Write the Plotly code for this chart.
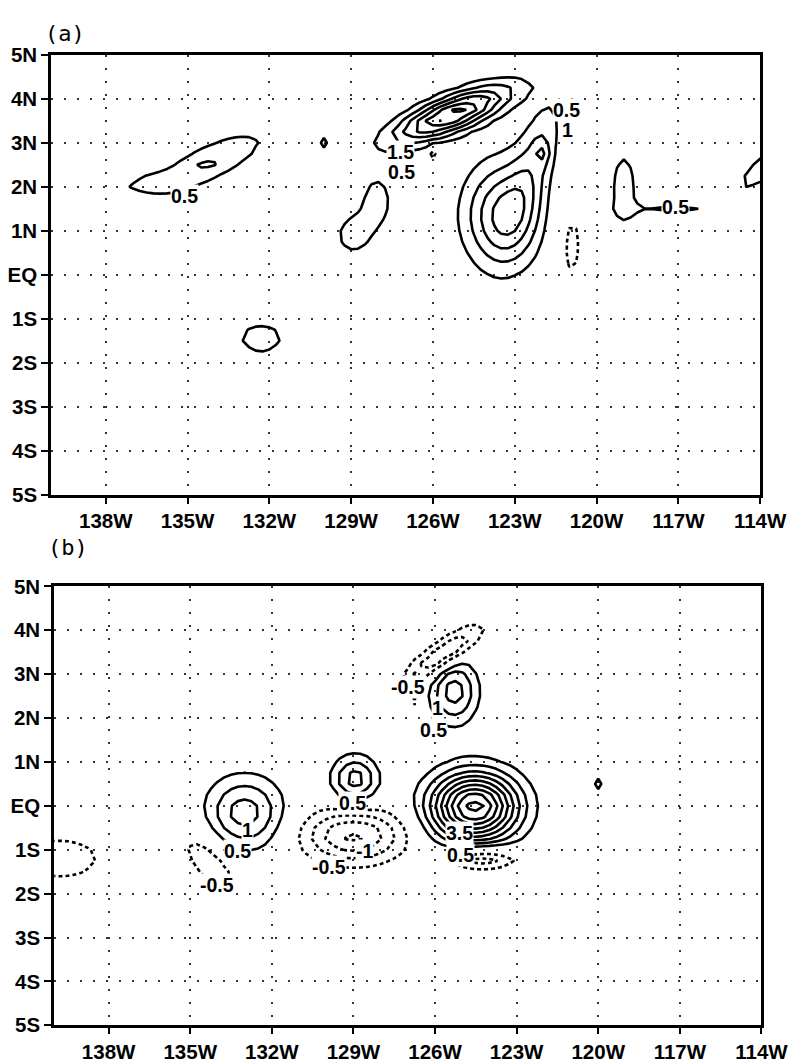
import numpy as np
import plotly.graph_objects as go

# ---------------- axis ticks ----------------
lon_ticks = [-138, -135, -132, -129, -126, -123, -120, -117, -114]
lon_labels = ["138W", "135W", "132W", "129W", "126W", "123W", "120W", "117W", "114W"]
lat_ticks = [-5, -4, -3, -2, -1, 0, 1, 2, 3, 4, 5]
lat_labels = ["5S", "4S", "3S", "2S", "1S", "EQ", "1N", "2N", "3N", "4N", "5N"]

# ---------------- panel (a) anomaly centres ----------------
a_lon = [-134.2, -136.6, -130.0, -125.3, -126.0, -128.05, -128.95, -123.45, -122.3, -122.0, -120.95, -119.0, -117.2, -113.6, -132.3]
a_lat = [2.55, 2.1, 3.0, 3.65, 2.75, 1.68, 0.9, 1.35, 2.55, 2.78, 0.72, 1.95, 1.5, 2.55, -1.45]
a_amp = [1.08, 0.62, 0.8, 3.2, -0.9, 0.7, 0.7, 2.05, 0.95, 0.7, -0.62, 0.75, 0.6, 0.75, 0.62]
a_sx = [1.5, 0.9, 0.12, 1.5, 0.12, 0.49, 0.55, 0.97, 1.2, 0.2, 0.5, 0.4, 1.2, 1.3, 1.05]
a_sy = [0.3, 0.13, 0.12, 0.28, 0.12, 0.52, 0.39, 0.82, 0.5, 0.2, 1.0, 0.75, 0.12, 0.3, 0.45]
a_ang = [15, 0, 0, 13, 0, 0, 0, 0, 60, 0, 0, 0, 0, 25, 0]

# ---------------- panel (b) anomaly centres ----------------
b_lon = [-125.3, -125.7, -126.75, -124.55, -124.3, -120.0, -133.0, -134.3, -139.8, -128.94, -129.0]
b_lat = [2.6, 3.45, 2.4, -0.02, -1.2, 0.5, -0.15, -1.25, -1.2, 0.6, -0.68]
b_amp = [1.75, -1.8, -0.6, 4.7, -1.6, 0.85, 1.75, -0.82, -0.7, 1.75, -2.1]
b_sx = [0.6, 1.0, 0.15, 1.1, 0.9, 0.12, 0.98, 1.0, 1.6, 0.59, 1.3]
b_sy = [0.5, 0.22, 0.4, 0.53, 0.18, 0.12, 0.57, 0.42, 0.5, 0.37, 0.42]
b_ang = [0, 22, 0, 0, 0, 0, 0, -30, 0, 0, 0]

# ---------------- contour labels ----------------
a_lab_text = ["0.5", "0.5", "1.5", "0.5", "1", "0.5"]
a_lab_lon = [-135.1, -127.15, -127.2, -121.1, -121.05, -117.1]
a_lab_lat = [1.8, 2.34, 2.8, 3.74, 3.28, 1.55]

b_lab_text = ["-0.5", "0.5", "1", "0.5", "0.5", "3.5", "0.5", "1", "-1", "-0.5", "-0.5"]
b_lab_lon = [-127.0, -126.05, -125.9, -129.05, -125.05, -125.1, -133.25, -132.9, -128.6, -129.9, -134.0]
b_lab_lat = [2.71, 1.72, 2.22, 0.07, -1.12, -0.62, -1.02, -0.56, -1.02, -1.4, -1.8]

grid_lon = np.arange(-141.0, -112.99, 0.25)
grid_lat = np.arange(-5.5, 5.51, 0.25)


def field(lons, lats, amps, sxs, sys_, angs):
    X, Y = np.meshgrid(grid_lon, grid_lat)
    Z = np.zeros_like(X)
    for lo, la, A, sx, sy, ang in zip(lons, lats, amps, sxs, sys_, angs):
        t = np.deg2rad(ang)
        dx = X - lo
        dy = Y - la
        u = dx * np.cos(t) + dy * np.sin(t)
        v = -dx * np.sin(t) + dy * np.cos(t)
        Z += A * np.exp(-0.5 * ((u / sx) ** 2 + (v / sy) ** 2))
    return Z


Za = field(a_lon, a_lat, a_amp, a_sx, a_sy, a_ang)
Zb = field(b_lon, b_lat, b_amp, b_sx, b_sy, b_ang)

fig = go.Figure()


def add_panel(Z, xa, ya):
    fig.add_trace(go.Contour(
        x=grid_lon, y=grid_lat, z=Z, autocontour=False,
        contours=dict(start=0.5, end=10, size=0.5, coloring="none", showlabels=False),
        line=dict(color="black", width=2.6, smoothing=0),
        showscale=False, hoverinfo="skip", xaxis=xa, yaxis=ya))
    fig.add_trace(go.Contour(
        x=grid_lon, y=grid_lat, z=Z, autocontour=False,
        contours=dict(start=-10, end=-0.49, size=0.5, coloring="none", showlabels=False),
        line=dict(color="black", width=2.6, smoothing=0, dash="4px,3px"),
        showscale=False, hoverinfo="skip", xaxis=xa, yaxis=ya))


add_panel(Za, "x", "y")
add_panel(Zb, "x2", "y2")

# measured relation between figure pixels and the photographed picture
W, H = 814, 1063
KX, BX, KY, BY = 0.972, -1.5, 0.981, 10.0


def px(obs):
    return ((obs - BX) / KX) / W


def py(obs):
    return 1 - ((obs - BY) / KY) / H


FONT = "Liberation Sans, Arial, sans-serif"
tickfont = dict(family=FONT, size=20.5, color="black", weight="bold")

common_x = dict(range=[-140, -114], tickvals=lon_ticks, ticktext=lon_labels,
                ticks="outside", ticklen=6, tickwidth=2, tickcolor="black",
                showline=True, linewidth=3, linecolor="black", mirror=True,
                showgrid=True, gridcolor="#333333", gridwidth=1.5, griddash="2px,11px",
                zeroline=False, tickfont=tickfont, fixedrange=True)
common_y = dict(range=[-5, 5], tickvals=lat_ticks, ticktext=lat_labels,
                ticks="outside", ticklen=7, tickwidth=2, tickcolor="black",
                showline=True, linewidth=3, linecolor="black", mirror=True,
                showgrid=True, gridcolor="#333333", gridwidth=1.5, griddash="2px,11px",
                zeroline=False, tickfont=tickfont, fixedrange=True)

fig.update_layout(
    width=W, height=H, autosize=False, margin=dict(l=0, r=0, t=0, b=0, pad=0),
    paper_bgcolor="white", plot_bgcolor="white", showlegend=False,
    xaxis=dict(common_x, domain=[px(50), px(762.7)], anchor="y"),
    yaxis=dict(common_y, domain=[py(495), py(53)], anchor="x"),
    xaxis2=dict(common_x, domain=[px(53), px(764)], anchor="y2"),
    yaxis2=dict(common_y, domain=[py(1028), py(587)], anchor="x2"),
)

annots = []
labfont = dict(family=FONT, size=19.5, color="black", weight="bold")
for t, lo, la in zip(a_lab_text, a_lab_lon, a_lab_lat):
    annots.append(dict(x=lo, y=la, xref="x", yref="y", text=t, showarrow=False,
                       font=labfont, bgcolor="white", borderpad=0))
for t, lo, la in zip(b_lab_text, b_lab_lon, b_lab_lat):
    annots.append(dict(x=lo, y=la, xref="x2", yref="y2", text=t, showarrow=False,
                       font=labfont, bgcolor="white", borderpad=0))
titlefont = dict(family="DejaVu Sans Mono, monospace", size=22, color="black")
annots.append(dict(x=px(42), y=py(17), xref="paper", yref="paper", text="(a)",
                   showarrow=False, font=titlefont))
annots.append(dict(x=px(45), y=py(548), xref="paper", yref="paper", text="(b)",
                   showarrow=False, font=titlefont))
fig.update_layout(annotations=annots)

fig.write_html("out.html", config={"responsive": False})
